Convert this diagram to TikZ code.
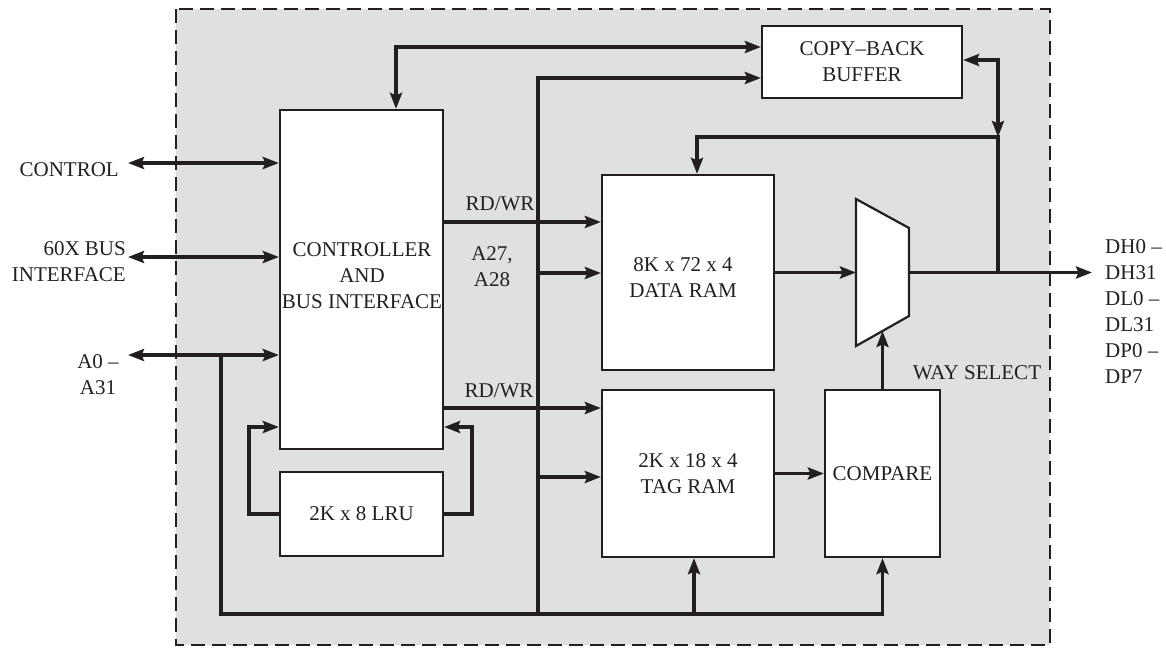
\documentclass[tikz,border=0pt]{standalone}
\usepackage{fontspec}
\setmainfont{Liberation Serif}
\usetikzlibrary{arrows.meta}
\definecolor{bg}{RGB}{223,224,226}
\definecolor{ink}{RGB}{35,31,32}
\begin{document}
\begin{tikzpicture}[x=1pt,y=-1pt,
  font=\fontsize{21}{26}\selectfont,
  box/.style={draw=ink,fill=white,line width=2.2pt,inner sep=0pt,align=center,text=ink},
  conn/.style={draw=ink,line width=3.3pt},
  arr/.style={conn,-{Stealth[length=16pt,width=12pt,inset=2.5pt]}},
  dbl/.style={conn,{Stealth[length=16pt,width=12pt,inset=2.5pt]}-{Stealth[length=16pt,width=12pt,inset=2.5pt]}},
  lbl/.style={inner sep=0pt,align=center,text=ink}]
\useasboundingbox (0,0) rectangle (1166,648);
\draw[draw=ink,fill=bg,line width=2.2pt,dash pattern=on 14pt off 7pt] (176,9) rectangle (1050,645);

% blocks
\node[box,minimum width=163pt,minimum height=339pt] (ctrl) at (361.5,279.5) {};
\node[lbl] (ctrlt) at (362,276) {CONTROLLER\\AND\\BUS INTERFACE};
\node[box,minimum width=163pt,minimum height=84pt] (lru) at (361.5,514) {2K x 8 LRU};
\node[box,minimum width=200pt,minimum height=72pt] (buf) at (862,62) {COPY–BACK\\BUFFER};
\node[box,minimum width=172pt,minimum height=195pt] (dram) at (688,272.5) {};
\node[lbl] (dramt) at (683,278) {8K x 72 x 4\\DATA RAM};
\node[box,minimum width=172pt,minimum height=167pt] (tram) at (688,473.5) {2K x 18 x 4\\TAG RAM};
\node[box,minimum width=115pt,minimum height=167pt] (cmp) at (882.5,473.5) {COMPARE};
\draw[draw=ink,fill=white,line width=2.2pt] (856,199) -- (909,228) -- (909,316) -- (856,346) -- cycle;

% coordinates
\coordinate (ctlE) at (128,163);
\coordinate (busE) at (128,257);
\coordinate (aE) at (128,355);
\coordinate (aJ) at (221,355);
\coordinate (busY) at (0,614);
\coordinate (topJ) at (396,47);
\coordinate (vJ) at (538,78);
\coordinate (rw1) at (0,222);
\coordinate (a27) at (0,273);
\coordinate (rw2) at (0,408);
\coordinate (tagin) at (0,477);
\coordinate (tagup) at (694,614);
\coordinate (fbL) at (249,427);
\coordinate (fbLb) at (249,514);
\coordinate (fbR) at (472,427);
\coordinate (fbRb) at (472,514);
\coordinate (muxin) at (856,272.5);
\coordinate (muxout) at (909,272.5);
\coordinate (muxsel) at (882.5,331);
\coordinate (outJ) at (998,272.5);
\coordinate (outE) at (1092,272.5);
\coordinate (retY) at (998,137);
\coordinate (dramIn) at (697,137);
\coordinate (bufR) at (998,60);

% connectors
\draw[dbl] (ctlE) -- (ctlE -| ctrl.west);
\draw[dbl] (busE) -- (busE -| ctrl.west);
\draw[dbl] (aE) -- (aE -| ctrl.west);
\draw[arr] (aJ) -- (aJ |- busY) -- (cmp.south |- busY) -- (cmp.south);
\draw[arr] (tagup) -- (tagup |- tram.south);
\draw[arr] (vJ |- busY) -- (vJ) -- (vJ -| buf.west);
\draw[dbl] (topJ |- ctrl.north) -- (topJ) -- (topJ -| buf.west);
\draw[arr] (rw1 -| ctrl.east) -- (rw1 -| dram.west);
\draw[arr] (a27 -| vJ) -- (a27 -| dram.west);
\draw[arr] (rw2 -| ctrl.east) -- (rw2 -| tram.west);
\draw[arr] (tagin -| vJ) -- (tagin -| tram.west);
\draw[arr] (tram.east) -- (cmp.west);
\draw[arr] (dram.east) -- (muxin);
\draw[arr] (muxout) -- (outE);
\draw[arr] (outJ) -- (retY) -- (dramIn) -- (dramIn |- dram.north);
\draw[dbl] (bufR -| buf.east) -- (bufR) -- (retY);
\draw[arr] (cmp.north) -- (muxsel);
\draw[arr] (lru.west) -- (fbLb) -- (fbL) -- (fbL -| ctrl.west);
\draw[arr] (lru.east) -- (fbRb) -- (fbR) -- (fbR -| ctrl.east);

% labels
\node[lbl,anchor=east] (lctl) at (119,170) {CONTROL};
\node[lbl,align=right,anchor=east] (lbus) at (126,262) {60X BUS\\INTERFACE};
\node[lbl] (la) at (98,375) {A0 –\\A31};
\node[lbl] (lrw1) at (500,204) {RD/WR};
\node[lbl] (la27) at (492,267) {A27,\\A28};
\node[lbl] (lrw2) at (499,391) {RD/WR};
\node[lbl] (lway) at (977,373) {WAY SELECT};
\node[lbl,align=left,anchor=west] (lout) at (1105,312) {DH0 –\\DH31\\DL0 –\\DL31\\DP0 –\\DP7};
\end{tikzpicture}
\end{document}
